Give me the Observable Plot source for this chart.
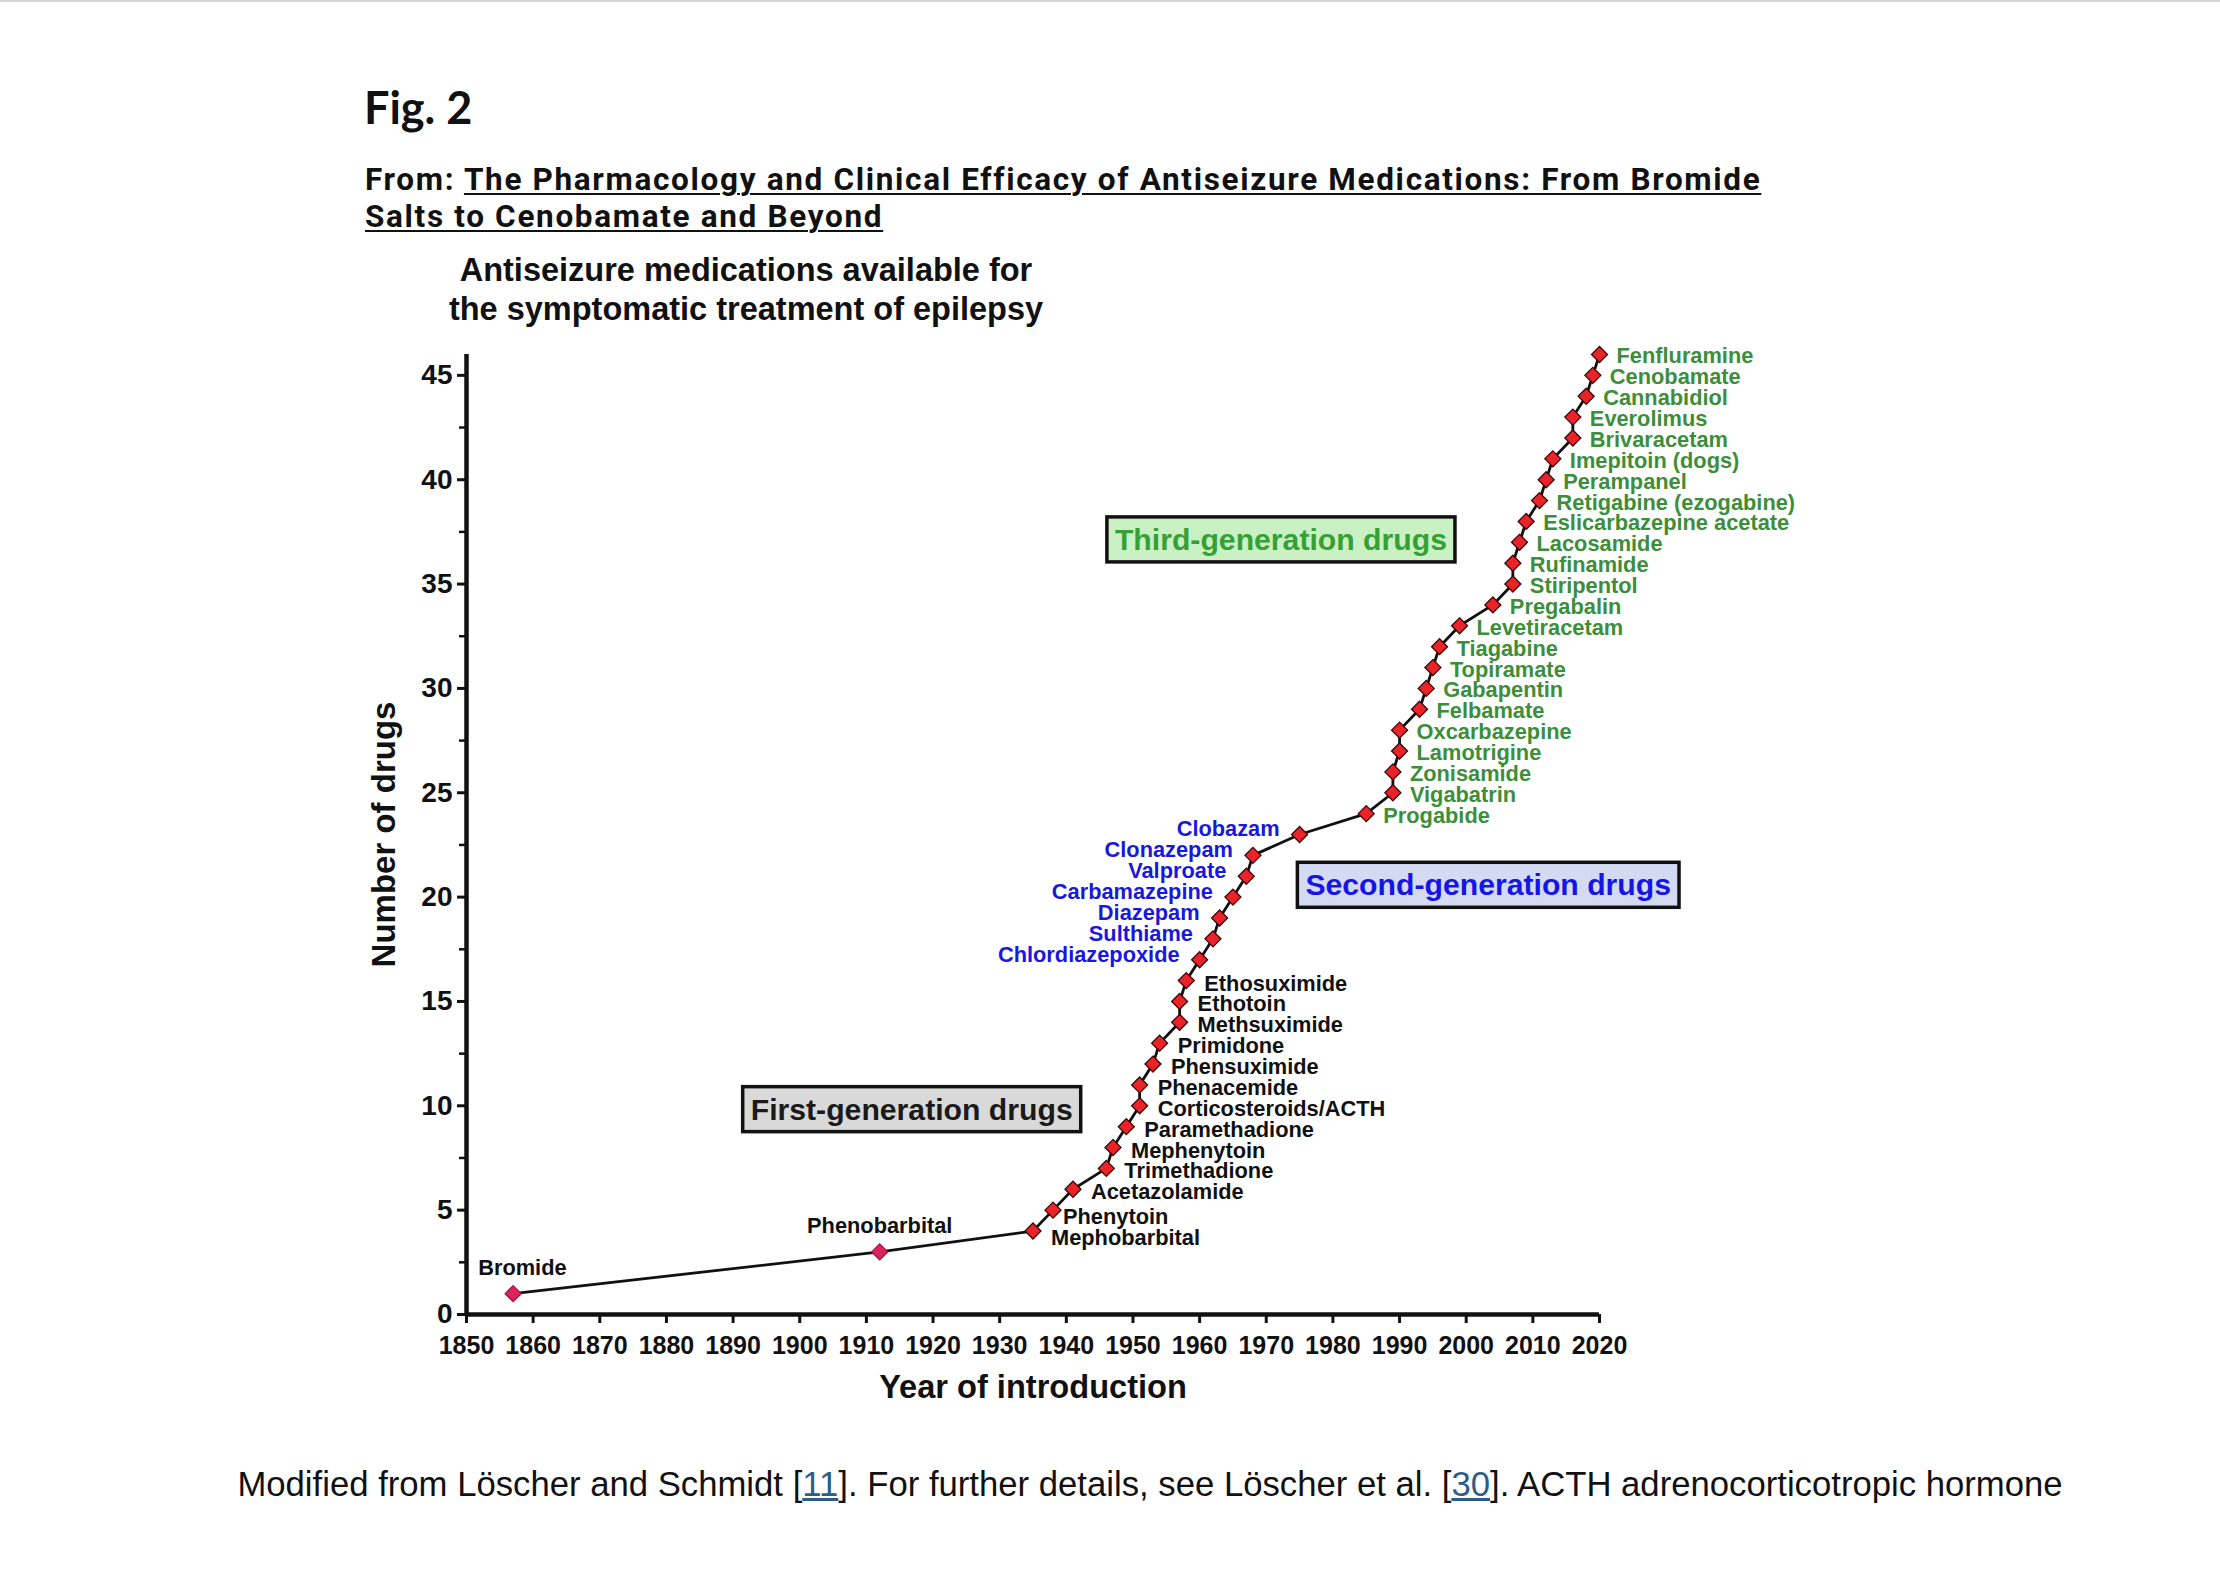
<!DOCTYPE html>
<html>
<head>
<meta charset="utf-8">
<script src="https://cdn.jsdelivr.net/npm/d3@7"></script>
<script src="https://cdn.jsdelivr.net/npm/@observablehq/plot@0.6"></script>
<style>
  html, body { margin: 0; padding: 0; background: #fff; }
  body { width: 2220px; height: 1574px; position: relative; overflow: hidden; }
  .topline { position: absolute; left: 0; top: 0; width: 2220px; height: 2px; background: #d6d6d6; }
  .abs { position: absolute; white-space: nowrap; color: #111; }
  #fig { left: 364px; top: 85px; font: bold 45px Lato, sans-serif; line-height: 1; }
  #from { left: 365px; top: 161px; font: bold 31.5px Roboto, sans-serif; line-height: 37px; }
  #from u { text-decoration-thickness: 2px; text-underline-offset: 3px; }
  #ctitle { left: 746px; top: 251px; transform: translateX(-50%); text-align: center;
            font: bold 32.5px "Liberation Sans", Arial, sans-serif; line-height: 39px; }
  #caption { left: 1150px; top: 1467px; transform: translateX(-50%);
             font: 34.7px "Liberation Sans", Arial, sans-serif; line-height: 1; }
  #caption a { color: #2b5c8a; text-decoration: underline; }
  #chart { position: absolute; left: 300px; top: 335px; }
</style>
</head>
<body>
<div class="topline"></div>
<div class="abs" id="fig">Fig. 2</div>
<div class="abs" id="from"><span id="line1">From: <u>The Pharmacology and Clinical Efficacy of Antiseizure Medications: From Bromide</u></span><br><u>Salts to Cenobamate and Beyond</u></div>
<div class="abs" id="ctitle">Antiseizure medications available for<br>the symptomatic treatment of epilepsy</div>
<div id="chart"></div>
<div class="abs" id="caption">Modified from Löscher and Schmidt [<a>11</a>]. For further details, see Löscher et al. [<a>30</a>]. ACTH adrenocorticotropic hormone</div>
<script>
// ---- data ----
const drugs = [
  "Bromide", "Phenobarbital", "Mephobarbital", "Phenytoin", "Acetazolamide",
  "Trimethadione", "Mephenytoin", "Paramethadione", "Corticosteroids/ACTH", "Phenacemide",
  "Phensuximide", "Primidone", "Methsuximide", "Ethotoin", "Ethosuximide",
  "Chlordiazepoxide", "Sulthiame", "Diazepam", "Carbamazepine", "Valproate",
  "Clonazepam", "Clobazam",
  "Progabide", "Vigabatrin", "Zonisamide", "Lamotrigine", "Oxcarbazepine",
  "Felbamate", "Gabapentin", "Topiramate", "Tiagabine", "Levetiracetam",
  "Pregabalin", "Stiripentol", "Rufinamide", "Lacosamide", "Eslicarbazepine acetate",
  "Retigabine (ezogabine)", "Perampanel", "Imepitoin (dogs)", "Brivaracetam", "Everolimus",
  "Cannabidiol", "Cenobamate", "Fenfluramine"
];
const years = [
  1857, 1912, 1935, 1938, 1941,
  1946, 1947, 1949, 1951, 1951,
  1953, 1954, 1957, 1957, 1958,
  1960, 1962, 1963, 1965, 1967,
  1968, 1975,
  1985, 1989, 1989, 1990, 1990,
  1993, 1994, 1995, 1996, 1999,
  2004, 2007, 2007, 2008, 2009,
  2011, 2012, 2013, 2016, 2016,
  2018, 2019, 2020
];
const counts = [
  1, 3, 4, 5, 6,
  7, 8, 9, 10, 11,
  12, 13, 14, 15, 16,
  17, 18, 19, 20, 21,
  22, 23,
  24, 25, 26, 27, 28,
  29, 30, 31, 32, 33,
  34, 35, 36, 37, 38,
  39, 40, 41, 42, 43,
  44, 45, 46
];
const generations = [
  "first", "first", "first", "first", "first",
  "first", "first", "first", "first", "first",
  "first", "first", "first", "first", "first",
  "second", "second", "second", "second", "second",
  "second", "second",
  "third", "third", "third", "third", "third",
  "third", "third", "third", "third", "third",
  "third", "third", "third", "third", "third",
  "third", "third", "third", "third", "third",
  "third", "third", "third"
];
const xTicks = [1850, 1860, 1870, 1880, 1890, 1900, 1910, 1920, 1930, 1940, 1950, 1960, 1970, 1980, 1990, 2000, 2010, 2020];
const yTicks = [0, 5, 10, 15, 20, 25, 30, 35, 40, 45];
const yMinorTicks = [2.5, 7.5, 12.5, 17.5, 22.5, 27.5, 32.5, 37.5, 42.5];

// generation annotation boxes (anchored in data units)
const genLabels = ["First-generation drugs", "Second-generation drugs", "Third-generation drugs"];
const genYears = [1916.8, 2003.3, 1972.2];
const genCounts = [9.8, 20.55, 37.1];

// ---- styling ----
const genText = ["#1a1a1a", "#1515e8", "#35a035"];
const genFill = ["#d9d9d9", "#d3daf2", "#c9f1c3"];
const labelColor = { first: "#111111", second: "#1818dd", third: "#3d8e3a" };
const labelSize = 21.8;

const data = drugs.map((d, i) => ({ drug: d, year: years[i], count: counts[i], gen: generations[i] }));
const genData = genLabels.map((t, i) => ({ label: t, year: genYears[i], count: genCounts[i], i }));

const font = "'Liberation Sans', Arial, Helvetica, sans-serif";
const firstRight = data.filter(d => d.gen === "first" && !["Bromide", "Phenobarbital", "Mephobarbital", "Phenytoin"].includes(d.drug));
const lab = (extra) => Object.assign({ x: "year", y: "count", text: "drug", fontSize: labelSize, fontWeight: "bold" }, extra);

const chart = Plot.plot({
  width: 1600,
  height: 1085,
  marginLeft: 166,
  marginRight: 301,
  marginTop: 19,
  marginBottom: 106,
  style: { fontFamily: font, background: "transparent", overflow: "visible", color: "#111" },
  x: { domain: [1850, 2020], label: null },
  y: { domain: [0, 46], label: null },
  marks: [
    Plot.axisY({ ticks: yMinorTicks, tickSize: 7, tickFormat: () => "", strokeWidth: 2.5 }),
    Plot.axisY({ ticks: yTicks, tickSize: 9, tickPadding: 5, strokeWidth: 3, fontSize: 28, fontWeight: "bold", tickFormat: d => String(d) }),
    Plot.axisX({ ticks: xTicks, tickSize: 9, tickPadding: 13, strokeWidth: 3, fontSize: 25, fontWeight: "bold", tickFormat: d => String(d) }),
    Plot.ruleY([0], { strokeWidth: 4.5, stroke: "#111" }),
    Plot.ruleX([1850], { strokeWidth: 4.5, stroke: "#111" }),
    Plot.text(["Year of introduction"], { frameAnchor: "bottom", dy: 73, fontSize: 32.6, fontWeight: "bold", fill: "#111", lineAnchor: "middle" }),
    Plot.text(["Number of drugs"], { frameAnchor: "left", dx: -82, rotate: -90, textAnchor: "middle", fontSize: 33, fontWeight: "bold", fill: "#111" }),
    // generation boxes (text; frames are drawn behind after render)
    Plot.text(genData, { x: "year", y: "count", text: "label", fontSize: 30.2, fontWeight: "bold", fill: d => genText[d.i] }),
    // the curve
    Plot.line(data, { x: "year", y: "count", stroke: "#111", strokeWidth: 2.8 }),
    Plot.dot(data, {
      x: "year", y: "count", symbol: "diamond2", r: 7.2,
      fill: d => d.count <= 3 ? "#d9245c" : "#ea2328",
      stroke: d => d.count <= 3 ? "#a8123f" : "#3a0808",
      strokeWidth: 1.3
    }),
    // labels – first generation
    Plot.text(data.filter(d => d.drug === "Bromide"), lab({ dy: -26, dx: -35, textAnchor: "start", fill: labelColor.first })),
    Plot.text(data.filter(d => d.drug === "Phenobarbital"), lab({ dy: -26, fill: labelColor.first })),
    Plot.text(data.filter(d => d.drug === "Mephobarbital"), lab({ dx: 18, dy: 7, textAnchor: "start", fill: labelColor.first })),
    Plot.text(data.filter(d => d.drug === "Phenytoin"), lab({ dx: 10, dy: 7, textAnchor: "start", fill: labelColor.first })),
    Plot.text(firstRight, lab({ dx: 18, dy: 3, textAnchor: "start", fill: labelColor.first })),
    // labels – second generation
    Plot.text(data.filter(d => d.gen === "second"), lab({ dx: -20, dy: -5, textAnchor: "end", fill: labelColor.second })),
    // labels – third generation
    Plot.text(data.filter(d => d.gen === "third"), lab({ dx: 17, dy: 2, textAnchor: "start", fill: labelColor.third }))
  ]
});

document.getElementById("chart").appendChild(chart);

// draw the framed boxes behind the generation labels
const svgns = "http://www.w3.org/2000/svg";
chart.querySelectorAll("text").forEach(t => {
  const i = genLabels.indexOf(t.textContent);
  if (i < 0) return;
  const b = t.getBBox();
  const padX = 8, padY = 7;
  const r = document.createElementNS(svgns, "rect");
  r.setAttribute("x", b.x - padX);
  r.setAttribute("y", b.y - padY + 1);
  r.setAttribute("width", b.width + 2 * padX);
  r.setAttribute("height", b.height + 2 * padY - 2);
  r.setAttribute("fill", genFill[i]);
  r.setAttribute("stroke", "#111");
  r.setAttribute("stroke-width", 3.5);
  const tr = t.getAttribute("transform");
  if (tr) r.setAttribute("transform", tr);
  t.parentNode.insertBefore(r, t);
});

// fit the header's first line to the reference width (365px → 1760px)
function fitHeader() {
  const from = document.getElementById("from");
  const l1 = document.getElementById("line1");
  from.style.letterSpacing = "0px";
  const w = l1.getBoundingClientRect().width;
  const n = l1.textContent.length;
  const ls = (1395 - w) / n;
  from.style.letterSpacing = ls.toFixed(3) + "px";
}
fitHeader();
if (document.fonts && document.fonts.ready) document.fonts.ready.then(fitHeader);
</script>
</body>
</html>
